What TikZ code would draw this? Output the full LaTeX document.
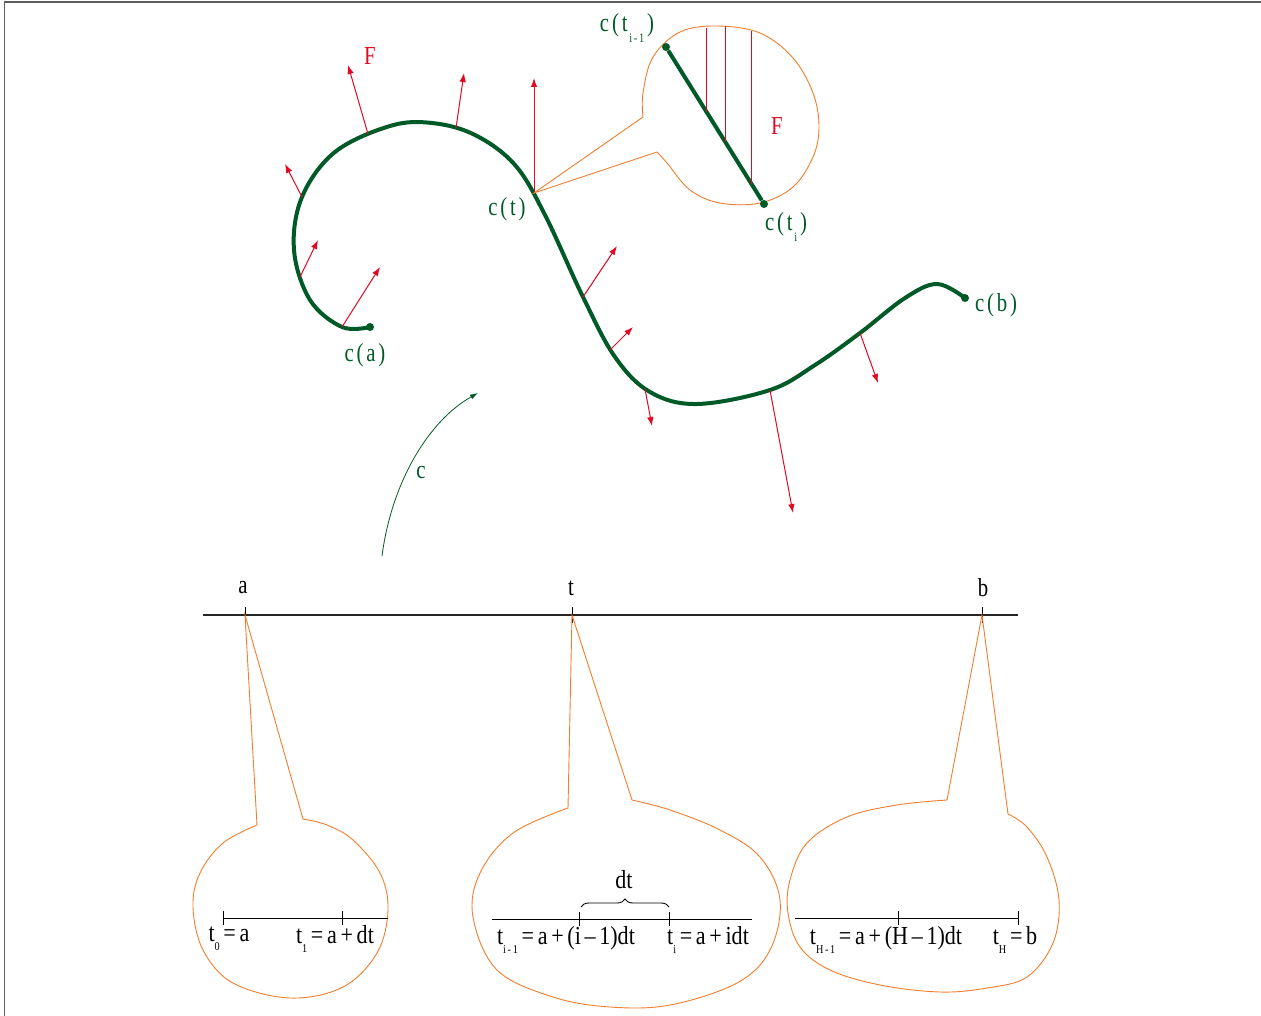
\documentclass[tikz,border=0pt]{standalone}
\usepackage{fontspec}
\setmainfont{Liberation Serif}
\usepackage{graphicx}
\usetikzlibrary{arrows.meta,decorations.pathreplacing}
\definecolor{cgreen}{RGB}{0,90,40}
\definecolor{cred}{RGB}{225,10,35}
\definecolor{corange}{RGB}{242,125,45}
\definecolor{cframe}{RGB}{95,95,95}
\newcommand\narrowtxt[2][0.8]{\scalebox{#1}[1]{#2}}
\newcommand\gp{\hspace{3.5pt}}
\newcommand\sbs[1]{\raisebox{-0.36em}{\fontsize{12}{12}\selectfont #1}}
\newcommand\gsbs[1]{\raisebox{-0.42em}{\fontsize{13}{13}\selectfont #1}}
\begin{document}
\begin{tikzpicture}[x=1pt,y=-1pt,
  every node/.style={font=\fontsize{26}{30}\selectfont, inner sep=0pt},
  glabel/.style={text=cgreen},
  dotnode/.style={circle, fill=cgreen, minimum size=8pt, inner sep=0pt},
  force/.style={cred, line width=1pt, -{Latex[length=9pt,width=6.5pt]}},
  bubble/.style={corange, line width=0.9pt},
  axis/.style={black!85, line width=1.3pt},
  tick/.style={black, line width=1pt},
  curve/.style={cgreen, line width=4pt, line cap=round}]
\useasboundingbox (0,0) rectangle (1261,1016);
% frame
\draw[cframe, line width=1.6pt] (1261,2) -- (4.5,2) -- (4.5,1016);

% main curve
\draw[curve] plot[smooth, tension=0.6] coordinates {(370,327) (342,327) (310,300) (294,250) (302,197) (335,152) (390,126) (432,123) (475,135) (515,165) (545,215) (583,297) (615,357) (650,392) (697,404) (770,390) (815,365) (860,333) (905,298) (937,284) (965,298)};
\node[dotnode] (ca) at (370,327) {};
\node[dotnode] (cb) at (965,298) {};
\coordinate (ct) at (534,193);

% force arrows
\foreach \i/\sx/\sy/\ex/\ey in {1/342/327/380/267, 2/300/277/318/240, 3/302/197/285/164, 4/368/134/348/65, 5/456/128/464/73, 6/534/193/534/78, 7/583/297/617/246, 8/610/350/633/327, 9/645/389/652/426, 10/770/390/793/513, 11/860/333/878/383}{
  \coordinate (fs\i) at (\sx,\sy);
  \coordinate (fe\i) at (\ex,\ey);
  \draw[force] (fs\i) -- (fe\i);
}
\node[text=cred] (Ftop) at (370,56) {\narrowtxt{F}};

% magnifier bubble top
\draw[bubble] plot[smooth, tension=0.6] coordinates {(643,117) (643,93) (653,57) (680,32) (717,26) (760,33) (793,58) (813,93) (819,127) (813,157) (793,187) (760,203) (720,203) (690,190) (667,163) (657,152)} -- (ct) -- cycle;
\node[dotnode] (cti1) at (666,47) {};
\node[dotnode] (cti) at (764,204) {};
\draw[cgreen, line width=4pt] (cti1) -- (cti);
\foreach \j/\x/\ya/\yb in {1/706/28/112, 2/725/26/142, 3/751/31/184}{
  \coordinate (va\j) at (\x,\ya);
  \coordinate (vb\j) at (\x,\yb);
  \draw[cred, line width=0.9pt] (va\j) -- (vb\j);
}
\node[text=cred] (Fin) at (777,126) {\narrowtxt{F}};

% green labels
\node[glabel] (lca) at (365,355) {\narrowtxt{c\gp(\gp a\gp)}};
\node[glabel] (lct) at (507,209) {\narrowtxt{c\gp(\gp t\gp)}};
\node[glabel] (lcti1) at (627,28) {\narrowtxt{c\gp(\gp t\gsbs{\,i\,-\,1}\gp)}};
\node[glabel] (lcti) at (786,227) {\narrowtxt{c\gp(\gp t\gsbs{\,i}\gp)}};
\node[glabel] (lcb) at (996,305) {\narrowtxt{c\gp(\gp b\gp)}};

% map arrow c
\coordinate (cs) at (382,556);
\coordinate (ce) at (478,393);
\draw[cgreen, line width=0.8pt, -{Latex[length=8pt,width=5pt]}] (cs) .. controls (392,480) and (430,420) .. (ce);
\node[glabel] (lc) at (421,472) {\narrowtxt{c}};

% number line
\coordinate (axl) at (203,615);
\coordinate (axr) at (1018,615);
\draw[axis] (axl) -- (axr);
\coordinate (ta) at (245,615);
\coordinate (tt) at (572,615);
\coordinate (tb) at (982,615);
\foreach \p in {ta,tt,tb}{\draw[tick] ([yshift=-8pt]\p) -- ([yshift=8pt]\p);}
\node (la) at (243,588) {\narrowtxt{a}};
\node (lt) at (571,588) {\narrowtxt{t}};
\node (lb) at (983,588) {\narrowtxt{b}};

% bottom bubbles
\draw[bubble] plot[smooth, tension=0.6] coordinates {(257,825) (223,843) (200,873) (193,907) (203,950) (233,983) (290,998) (343,987) (377,953) (388,910) (380,873) (353,840) (327,825) (303,819)} -- (ta) -- cycle;
\draw[bubble] plot[smooth, tension=0.6] coordinates {(568,808) (513,833) (480,873) (473,917) (497,970) (553,997) (610,1007) (670,1005) (737,983) (770,950) (780,900) (760,857) (720,830) (670,810) (632,800)} -- (tt) -- cycle;
\draw[bubble] plot[smooth, tension=0.6] coordinates {(947,800) (897,805) (847,817) (807,843) (790,880) (788,913) (800,947) (830,970) (880,985) (940,992) (987,988) (1027,977) (1053,943) (1059,900) (1047,857) (1027,827) (1008,814)} -- (tb) -- cycle;

% bubble 1 content
\coordinate (b1l) at (223,918);
\coordinate (b1r) at (388,918);
\draw[tick] (b1l) -- (b1r);
\coordinate (b1t0) at (223,918);
\coordinate (b1t1) at (342,918);
\foreach \p in {b1t0,b1t1}{\draw[tick] ([yshift=-7pt]\p) -- ([yshift=7pt]\p);}
\node (l10) at (229,939) {\narrowtxt[0.85]{t\sbs{0}\,=\,a}};
\node (l11) at (335,939) {\narrowtxt[0.85]{t\sbs{1}\,=\,a\,+\,dt}};

% bubble 2 content
\coordinate (b2l) at (492,919);
\coordinate (b2r) at (752,919);
\draw[tick] (b2l) -- (b2r);
\coordinate (b2t0) at (579,919);
\coordinate (b2t1) at (669,919);
\foreach \p in {b2t0,b2t1}{\draw[tick] ([yshift=-7pt]\p) -- ([yshift=7pt]\p);}
\coordinate (brl) at (581,907);
\coordinate (brr) at (669,907);
\draw[black, line width=0.9pt, decorate, decoration={brace, amplitude=8pt}] (brl) -- (brr);
\node (ldt) at (624,880) {\narrowtxt[0.85]{dt}};
\node (l2a) at (566,940) {\narrowtxt[0.85]{t\sbs{i\,-\,1}\,=\,a\,+\,(i\,–\,1)dt}};
\node (l2b) at (708,940) {\narrowtxt[0.85]{t\sbs{i}\,=\,a\,+\,idt}};

% bubble 3 content
\coordinate (b3l) at (795,918);
\coordinate (b3r) at (1018,918);
\draw[tick] (b3l) -- (b3r);
\coordinate (b3t0) at (898,918);
\coordinate (b3t1) at (1018,918);
\foreach \p in {b3t0,b3t1}{\draw[tick] ([yshift=-7pt]\p) -- ([yshift=7pt]\p);}
\node (l3a) at (886,940) {\narrowtxt[0.85]{t\sbs{H\,-\,1}\,=\,a\,+\,(H\,–\,1)dt}};
\node (l3b) at (1015,940) {\narrowtxt[0.85]{t\sbs{H}\,=\,b}};
\end{tikzpicture}
\end{document}
